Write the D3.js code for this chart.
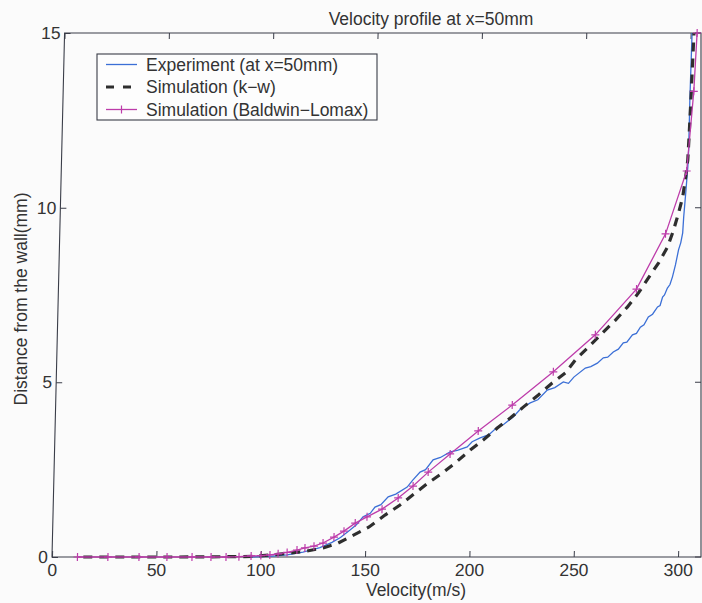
<!DOCTYPE html>
<html>
<head>
<meta charset="utf-8">
<script src="https://cdn.jsdelivr.net/npm/d3@7"></script>
<style>
  body { margin: 0; background: #fbfbfb; }
  svg { display: block; }
  text { font-family: "Liberation Sans", Arial, Helvetica, sans-serif; fill: #333; }
</style>
</head>
<body>
<script>
// tick labels
var xTicks = [0, 50, 100, 150, 200, 250, 300];
var yTicks = [0, 5, 10, 15];

// [velocity (m/s), distance (mm)]
var experiment = [
  [95, 0.0], [104.4, 0.02], [112.6, 0.06], [120.2, 0.14], [128.3, 0.27], [134, 0.42], [138, 0.56],
  [142.5, 0.77], [145.5, 0.92], [148.6, 1.15], [152, 1.25], [154.2, 1.43], [157, 1.5], [160.4, 1.72],
  [164, 1.8], [169.4, 2.0], [172, 2.2], [175.4, 2.43], [178, 2.5], [181.5, 2.78], [185, 2.85],
  [189.6, 3.01], [193, 3.05], [197.7, 3.15], [200, 3.3], [203.8, 3.41], [208, 3.5], [211.9, 3.72],
  [215, 3.8], [219.4, 4.01], [223, 4.25], [227.4, 4.41], [231, 4.5], [235.4, 4.78], [239, 4.85],
  [243, 5.01], [245.5, 4.97], [248, 5.15], [253.4, 5.41], [256, 5.45], [259.1, 5.55], [261.9, 5.70],
  [264, 5.72], [266.6, 5.87], [269, 5.95], [271.3, 6.13], [273, 6.15], [275.6, 6.36], [277.5, 6.4],
  [279.3, 6.58], [281, 6.65], [283, 6.87], [285, 6.95], [287.3, 7.16], [288.5, 7.2], [289.6, 7.44],
  [290.5, 7.5], [291.8, 7.70], [293, 7.8], [294.1, 8.02], [295.4, 8.36], [296.7, 8.79], [297.7, 9.0],
  [298.5, 9.28], [298.8, 9.73], [299.5, 10.42], [300.2, 11.17], [300.4, 11.65], [300.4, 13.08], [300.7, 15]
];

var kOmega = [
  [15, 0], [60, 0], [90, 0.01], [97.3, 0.02], [105.4, 0.06], [113.1, 0.11], [122.1, 0.17],
  [129.8, 0.26], [137, 0.40], [144, 0.62], [151.6, 0.86], [159.1, 1.20], [166.2, 1.49],
  [173.3, 1.83], [179.4, 2.12], [186, 2.40], [192.1, 2.69], [199.2, 3.06], [205.3, 3.35],
  [211.9, 3.69], [218, 3.98], [224.1, 4.29], [231.2, 4.64], [237.7, 4.98], [243.9, 5.27],
  [248.5, 5.64], [254.6, 6.01], [261.6, 6.44], [267.3, 6.78], [272.9, 7.16], [278, 7.56],
  [282.6, 7.99], [287.3, 8.42], [291.4, 8.87], [294.1, 9.36], [296.3, 9.85], [298.1, 10.31],
  [299.3, 10.88], [300.1, 11.37], [300.4, 11.94], [300.9, 13.08], [301.6, 15]
];

var baldwinLomax = [
  [12.2, 0], [26.8, 0], [41.7, 0], [55.1, 0], [67.1, 0], [76.2, 0], [83.4, 0], [89.6, 0.01],
  [95.4, 0.03], [100.1, 0.04], [104.4, 0.06], [108.3, 0.09], [112.6, 0.13], [117.3, 0.2],
  [121.1, 0.26], [125.4, 0.31], [129.7, 0.40], [134.9, 0.57], [139.6, 0.74], [144.9, 0.97],
  [150.5, 1.15], [157.6, 1.37], [165.2, 1.69], [172.2, 2.03], [179.3, 2.43], [189.6, 2.95],
  [202.8, 3.61], [218.8, 4.35], [238.1, 5.30], [257.8, 6.36], [277, 7.67], [290.3, 9.25],
  [299.7, 11.05], [302.2, 13.33], [303.1, 15]
];

var legendNames = ["Experiment (at x=50mm)", "Simulation (k\u2212w)", "Simulation (Baldwin\u2212Lomax)"];

var width = 702, height = 603;
var margin = {top: 33, left: 52};
var pw = 649, ph = 524;
var skew = 0.024;   // the scanned page is slightly sheared (left side leans, right side doesn't)
var fs = 17.5;
var axisColor = "#3a3d48";
var blue = "#3b6fd6", magenta = "#bd3caa", dark = "#2e2e2e";

var svg = d3.select("body").append("svg")
  .attr("width", width)
  .attr("height", height);

var g = svg.append("g")
  .attr("transform", "translate(" + (margin.left + skew * ph) + "," + margin.top + ") skewX(" + (-Math.atan(skew) * 180 / Math.PI) + ")");

var x = d3.scaleLinear().domain([0, 311]).range([0, pw]);
var y = d3.scaleLinear().domain([0, 15]).range([ph, 0]);

// right edge of the box stays upright on the scan
function rightEdge(v) { return pw - skew * (ph - y(v)); }

var line = d3.line()
  .x(function(d) { return x(d[0]); })
  .y(function(d) { return y(d[1]); });

// axes: inward ticks, MATLAB style
var axB = g.append("g").attr("transform", "translate(0," + ph + ")")
  .call(d3.axisBottom(x).tickValues(xTicks).tickSizeInner(-6).tickSizeOuter(0).tickPadding(7));
var axT = g.append("g")
  .call(d3.axisTop(x).tickValues(xTicks).tickSizeInner(-6).tickSizeOuter(0).tickFormat(""));
var axL = g.append("g")
  .call(d3.axisLeft(y).tickValues(yTicks).tickSizeInner(-6).tickSizeOuter(0).tickPadding(4));

[axB, axT, axL].forEach(function(a) {
  a.select(".domain").remove();
  a.selectAll("line").attr("stroke", axisColor);
  a.selectAll("text").style("font-size", fs + "px").attr("fill", "#333");
});

g.selectAll(".rtick").data(yTicks).enter().append("line")
  .attr("class", "rtick")
  .attr("x1", function(d) { return rightEdge(d); })
  .attr("x2", function(d) { return rightEdge(d) - 6; })
  .attr("y1", function(d) { return y(d); })
  .attr("y2", function(d) { return y(d); })
  .attr("stroke", axisColor);

g.append("path")
  .attr("d", "M0," + ph + "H" + pw + "L" + rightEdge(15) + ",0H0Z")
  .attr("fill", "none").attr("stroke", axisColor).attr("stroke-width", 1.1);

// series
g.append("path").datum(experiment)
  .attr("fill", "none").attr("stroke", blue).attr("stroke-width", 1.3)
  .attr("d", line);

g.append("path").datum(kOmega)
  .attr("fill", "none").attr("stroke", dark).attr("stroke-width", 3.2)
  .attr("stroke-dasharray", "9,7")
  .attr("d", line);

g.append("path").datum(baldwinLomax)
  .attr("fill", "none").attr("stroke", magenta).attr("stroke-width", 1.3)
  .attr("d", line);

g.selectAll(".bl").data(baldwinLomax).enter().append("path")
  .attr("class", "bl")
  .attr("transform", function(d) { return "translate(" + x(d[0]) + "," + y(d[1]) + ")"; })
  .attr("d", "M-4,0H4M0,-4V4")
  .attr("stroke", magenta).attr("stroke-width", 1.2);

// titles
svg.append("text")
  .attr("x", 431).attr("y", 25)
  .attr("text-anchor", "middle")
  .style("font-size", fs + "px")
  .text("Velocity profile at x=50mm");

svg.append("text")
  .attr("x", 416).attr("y", 596)
  .attr("text-anchor", "middle")
  .style("font-size", fs + "px")
  .text("Velocity(m/s)");

svg.append("text")
  .attr("transform", "translate(27,299) rotate(-90)")
  .attr("text-anchor", "middle")
  .style("font-size", fs + "px")
  .text("Distance from the wall(mm)");

// legend
var lg = svg.append("g").attr("transform", "translate(97,54)");
lg.append("rect")
  .attr("width", 280).attr("height", 66)
  .attr("fill", "#fdfdfd").attr("stroke", axisColor).attr("stroke-width", 1.1);

var rows = [
  {stroke: blue, w: 1.3, dash: null, mark: false},
  {stroke: dark, w: 3.2, dash: "8,9", mark: false},
  {stroke: magenta, w: 1.3, dash: null, mark: true}
];
rows.forEach(function(r, i) {
  var ly = 10.5 + i * 22.5;
  lg.append("line")
    .attr("x1", 9).attr("x2", 40).attr("y1", ly).attr("y2", ly)
    .attr("stroke", r.stroke).attr("stroke-width", r.w)
    .attr("stroke-dasharray", r.dash);
  if (r.mark) {
    lg.append("path")
      .attr("transform", "translate(24.5," + ly + ")")
      .attr("d", "M-4,0H4M0,-4V4")
      .attr("stroke", r.stroke).attr("stroke-width", 1.2);
  }
  lg.append("text")
    .attr("x", 49).attr("y", ly + 6)
    .style("font-size", fs + "px")
    .text(legendNames[i]);
});
</script>
</body>
</html>
